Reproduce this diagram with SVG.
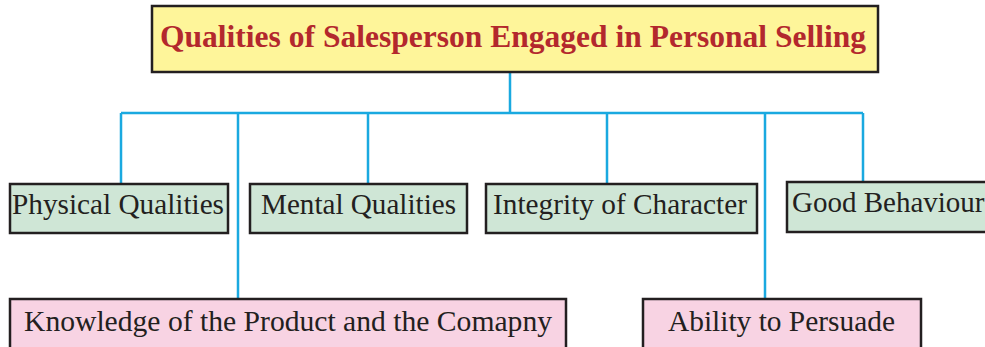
<svg xmlns="http://www.w3.org/2000/svg" width="985" height="347" viewBox="0 0 985 347">
<style>
.box{stroke:#231f20;stroke-width:2.5}
.g{fill:#cfe6d6}
.p{fill:#f8d3e3}
.t{font-family:"Liberation Serif","Times New Roman",serif;font-size:29px;fill:#231f20}
.ln{stroke:#1aa9e0;stroke-width:2.5;fill:none}
</style>
<rect width="985" height="347" fill="#fff"/>
<g id="connectors">
<path class="ln" d="M510 72V113M121 113H863M121 113V184M238 113V299M368 113V184M607 113V184M765 113V299M863 113V182"/>
</g>
<g id="title">
<rect class="box" x="152" y="6" width="726" height="66" fill="#fef59a"/>
<text x="160" y="47" font-family="Liberation Serif,'Times New Roman',serif" font-size="32" font-weight="bold" fill="#b3282d" textLength="706" lengthAdjust="spacingAndGlyphs">Qualities of Salesperson Engaged in Personal Selling</text>
</g>
<g id="physical">
<rect class="box g" x="10" y="184" width="218" height="49"/>
<text class="t" x="12" y="214" textLength="212" lengthAdjust="spacingAndGlyphs">Physical Qualities</text>
</g>
<g id="mental">
<rect class="box g" x="250" y="184" width="217" height="49"/>
<text class="t" x="261" y="214" textLength="195" lengthAdjust="spacingAndGlyphs">Mental Qualities</text>
</g>
<g id="integrity">
<rect class="box g" x="486" y="184" width="271" height="49"/>
<text class="t" x="493" y="214" textLength="254" lengthAdjust="spacingAndGlyphs">Integrity of Character</text>
</g>
<g id="behaviour">
<rect class="box g" x="787" y="182" width="210" height="50"/>
<text class="t" x="792" y="212">Good Behaviour</text>
</g>
<g id="knowledge">
<rect class="box p" x="10" y="299" width="556" height="60"/>
<text class="t" x="24" y="331" textLength="528" lengthAdjust="spacingAndGlyphs">Knowledge of the Product and the Comapny</text>
</g>
<g id="persuade">
<rect class="box p" x="643" y="299" width="278" height="60"/>
<text class="t" x="668" y="331" textLength="227" lengthAdjust="spacingAndGlyphs">Ability to Persuade</text>
</g>
</svg>
